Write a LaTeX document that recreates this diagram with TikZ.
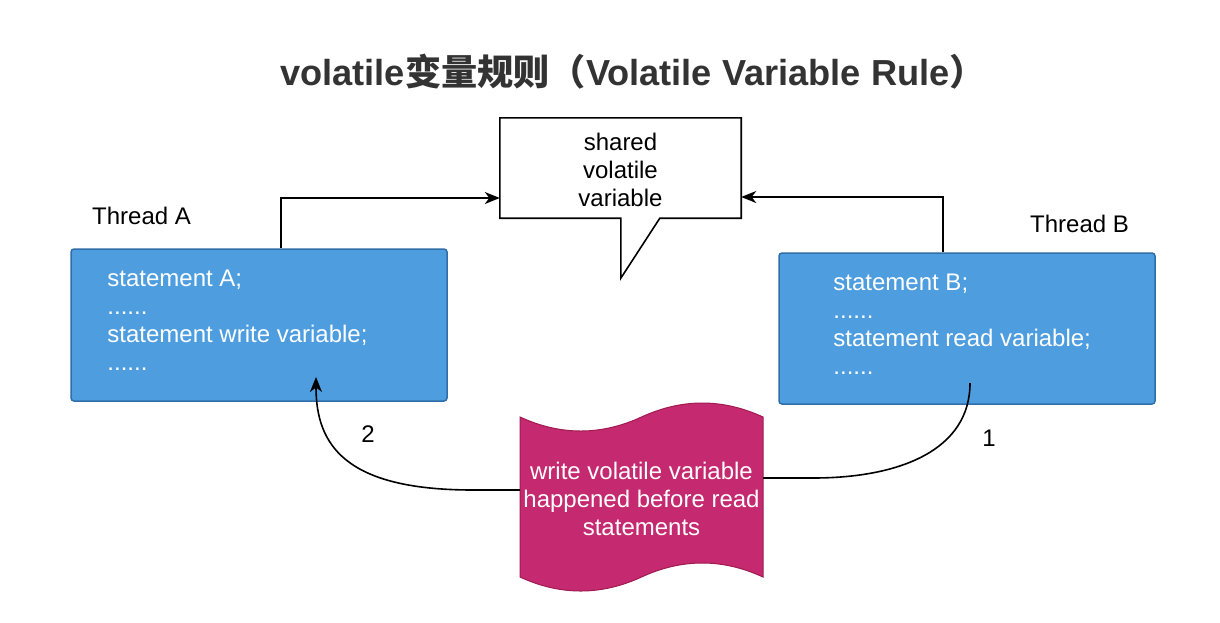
\documentclass[tikz,border=0pt]{standalone}
\usepackage{fontspec}
\setmainfont{Liberation Sans}
\newfontfamily\cjk{Noto Sans CJK SC}
\usetikzlibrary{arrows.meta,calc}
\definecolor{boxfill}{RGB}{77,157,223}
\definecolor{boxline}{RGB}{48,110,170}
\definecolor{tapefill}{RGB}{197,41,111}
\definecolor{tapeline}{RGB}{160,28,80}
\definecolor{titlegray}{RGB}{51,51,51}
\tikzset{
  bodyfont/.style={font=\fontsize{24}{28}\selectfont},
  plaintext/.style={bodyfont, inner sep=0pt, text=black},
  tbox/.style={draw=boxline, fill=boxfill, line width=1.5pt, rounded corners=3pt,
    minimum width=376pt, minimum height=152pt, inner sep=0pt},
  codetext/.style={bodyfont, text=white, align=left, inner sep=0pt, anchor=west},
  conn/.style={draw=black, line width=1.6pt, -{Stealth[length=15pt,width=12pt,inset=4.5pt]}},
  plainconn/.style={draw=black, line width=1.6pt},
}
\begin{document}
\begin{tikzpicture}[x=1pt,y=-1pt]
\useasboundingbox[fill=white] (0,0) rectangle (1220,622);

% title
\node[inner sep=0pt, text=titlegray, font=\fontsize{36.2}{40}\selectfont\bfseries] (title) at (633,72)
  {volatile{\cjk\bfseries 变量规则（}Volatile Variable Rule{\cjk\bfseries ）}};

% callout
\node[minimum width=241pt, minimum height=100pt, inner sep=0pt] (callout) at (620.5,168) {};
\draw[line width=1.6pt, fill=white]
  (callout.north west) -- (callout.north east) -- (callout.south east)
  -- ($(callout.south west)+(160,0)$) -- ($(callout.south west)+(121,60)$)
  -- ($(callout.south west)+(121,0)$) -- (callout.south west) -- cycle;
\node[plaintext, align=center] (calltext) at (620.5,170) {shared\\volatile\\variable};

% thread labels
\node[plaintext, anchor=west] (thA) at (92,216) {Thread A};
\node[plaintext, anchor=west] (thB) at (1030,224) {Thread B};

% thread boxes
\node[tbox] (A) at (259,325) {};
\node[codetext] (Atext) at ([xshift=37pt,yshift=5pt]A.west)
  {statement A;\\......\\statement write variable;\\......};
\node[tbox, minimum height=151pt] (B) at (967,328.5) {};
\node[codetext] (Btext) at ([xshift=55pt,yshift=4pt]B.west)
  {statement B;\\......\\statement read variable;\\......};

% connectors to callout
\draw[conn] ([xshift=22pt]A.north) |- ([yshift=-30pt]callout.west);
\draw[conn] ([xshift=-24pt]B.north) |- ([yshift=-29pt]callout.east);

% tape
\node[minimum width=243pt, minimum height=160pt, inner sep=0pt] (tape) at (641.5,497) {};
\draw[draw=tapeline, fill=tapefill, line width=1pt]
  (520,417) .. controls (560.5,435.67) and (601,435.67) .. (641.5,417)
  .. controls (682,398.33) and (722.5,398.33) .. (763,417)
  -- (763,577)
  .. controls (722.5,558.33) and (682,558.33) .. (641.5,577)
  .. controls (601,595.67) and (560.5,595.67) .. (520,577) -- cycle;
\node[bodyfont, text=white, align=center, inner sep=0pt] (tapetext) at (641.5,499)
  {write volatile variable\\happened before read\\statements};

% curved connectors
\coordinate (Bout) at (970,383);
\coordinate (Ain) at (316,377);
\draw[plainconn] (Bout) .. controls (970,450) and (900,478) .. (813,478) -- (tape.east |- 0,478);
\draw[conn] (tape.west |- 0,490) -- (473,490) .. controls (345,490) and (316,445) .. (Ain);

\node[plaintext] (lab2) at (368,434) {2};
\node[plaintext] (lab1) at (989,438) {1};
\end{tikzpicture}
\end{document}
